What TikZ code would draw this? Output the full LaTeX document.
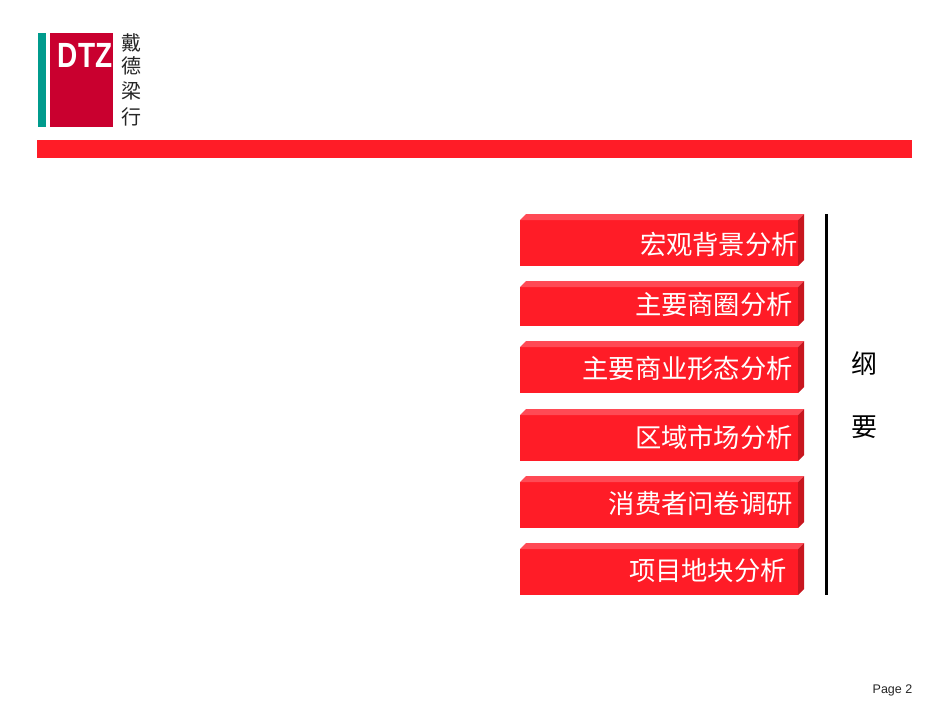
\documentclass[tikz,border=0pt]{standalone}
\usepackage{fontspec}
\setmainfont{Liberation Sans}
\newfontfamily\cjk{Noto Sans CJK SC}
\definecolor{barred}{HTML}{FF1C27}
\definecolor{toplight}{HTML}{FF4A55}
\definecolor{sidedark}{HTML}{C8161F}
\definecolor{logored}{HTML}{C9002F}
\definecolor{logoteal}{HTML}{009B8D}
\tikzset{
  x=1pt,y=-1pt,
  boxlabel/.style={anchor=east,inner sep=0pt,text=white,font=\cjk\fontsize{26.3}{26.3}\selectfont},
  sidelabel/.style={inner sep=0pt,text=black,font=\cjk\fontsize{26}{26}\selectfont},
  logolabel/.style={inner sep=0pt,text=black!85,font=\cjk\fontsize{20}{20}\selectfont}
}
\newcommand{\bevelbox}[6]{% name, top, bottom, text right edge, text y, text
  \fill[barred] (520,#2+6) rectangle (798,#3);
  \fill[toplight] (520,#2+6) -- (526,#2) -- (804,#2) -- (798,#2+6) -- cycle;
  \fill[sidedark] (798,#2+6) -- (804,#2) -- (804,#3-6) -- (798,#3) -- cycle;
  \node[boxlabel] (#1) at (#4,#5) {#6};
}
\begin{document}
\begin{tikzpicture}
\useasboundingbox[fill=white] (0,0) rectangle (950,713);
% logo
\fill[logoteal] (38,33) rectangle (46,127);
\fill[logored] (50,33) rectangle (112.5,127);
\node[inner sep=0pt,anchor=center,text=white,font=\bfseries\fontsize{35}{35}\selectfont,xscale=.8] (dtz) at (85,55) {DTZ};
\node[logolabel] (l1) at (131,43) {戴};
\node[logolabel] (l2) at (131,66) {德};
\node[logolabel] (l3) at (131,91) {梁};
\node[logolabel] (l4) at (131,117) {行};
% header bar
\fill[barred] (37,140) rectangle (912,158);
% boxes
\bevelbox{b1}{214}{266}{798}{244}{宏观背景分析}
\bevelbox{b2}{281}{326}{793}{304}{主要商圈分析}
\bevelbox{b3}{341}{393}{793}{369}{主要商业形态分析}
\bevelbox{b4}{409}{461}{793}{437}{区域市场分析}
\bevelbox{b5}{476}{528}{793}{504}{消费者问卷调研}
\bevelbox{b6}{543}{595}{787}{571}{项目地块分析}
% rule
\draw[line width=3pt,black] (826.5,214) -- (826.5,595);
\node[sidelabel] (s1) at (864,364) {纲};
\node[sidelabel] (s2) at (864,427) {要};
\node[inner sep=0pt,anchor=east,font=\fontsize{12.5}{12.5}\selectfont,text=black!85] (pg) at (912.5,690) {Page 2};
\end{tikzpicture}
\end{document}
